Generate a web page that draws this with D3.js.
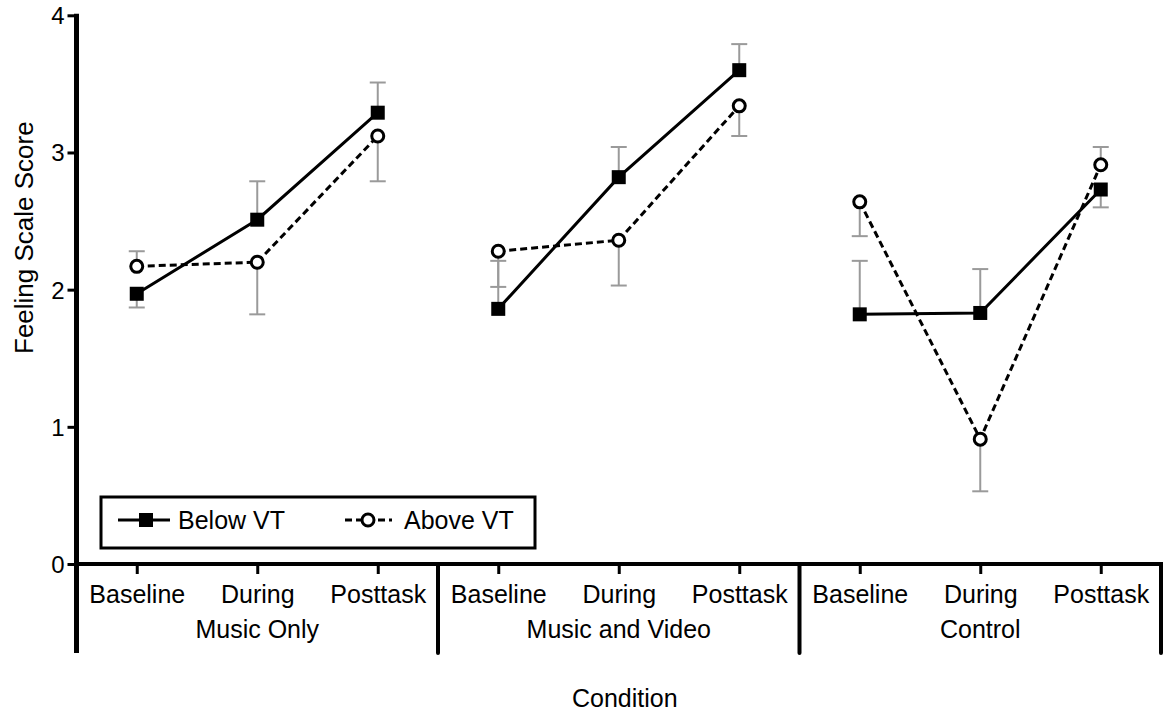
<!DOCTYPE html>
<html>
<head>
<meta charset="utf-8">
<script src="https://cdn.jsdelivr.net/npm/d3@7"></script>
<style>
    body { margin: 0; background: #ffffff; }
    text { font-family: Arial, "Liberation Sans", Helvetica, sans-serif; fill: #000; }
</style>
</head>
<body>
<div id="chart"></div>
<script>
// groups and phases along the x axis
var groups = ["Music Only", "Music and Video", "Control"];
var phases = ["Baseline", "During", "Posttask"];
var yTicks = [0, 1, 2, 3, 4];

// means, in group order then phase order
var belowMean = [1.97, 2.51, 3.29, 1.86, 2.82, 3.60, 1.82, 1.83, 2.73];
var aboveMean = [2.17, 2.20, 3.12, 2.28, 2.36, 3.34, 2.64, 0.91, 2.91];

// where each one-sided error bar ends
var belowErr = [1.87, 2.79, 3.51, 2.21, 3.04, 3.79, 2.21, 2.15, 2.60];
var aboveErr = [2.28, 1.82, 2.79, 2.02, 2.03, 3.12, 2.39, 0.53, 3.04];

var width = 1163, height = 720;
var plotLeft = 76.5, plotRight = 1161, plotTop = 15.3, plotBottom = 564, axisEnd = 653;

var svg = d3.select("#chart")
    .append("svg")
    .attr("width", width)
    .attr("height", height);

var groupScale = d3.scaleBand()
    .domain(groups)
    .range([plotLeft, plotRight])
    .padding(0);

var phaseScale = d3.scalePoint()
    .domain(phases)
    .range([0, groupScale.bandwidth()])
    .padding(0.5);

var y = d3.scaleLinear()
    .domain([0, 4])
    .range([plotBottom, plotTop]);

function rows(means, errs){
    var out = [];
    groups.forEach(function(g, gi){
        phases.forEach(function(p, pi){
            var i = gi * phases.length + pi;
            out.push({"group": g, "phase": p, "mean": means[i], "err": errs[i]});
        });
    });
    return out;
}

function xpos(d){ return groupScale(d.group) + phaseScale(d.phase); }

var below = rows(belowMean, belowErr);
var above = rows(aboveMean, aboveErr);

// y axis
var yAxis = svg.append("g")
    .attr("transform", "translate(" + plotLeft + ",0)")
    .call(d3.axisLeft(y).tickValues(yTicks).tickSize(9).tickPadding(3).tickFormat(d3.format("d")));

yAxis.select(".domain").remove();
yAxis.selectAll(".tick line").attr("stroke", "#000").attr("stroke-width", 3);
yAxis.selectAll(".tick text").style("font-size", "24px").attr("dy", "0.35em");

svg.append("line")
    .attr("x1", plotLeft).attr("x2", plotLeft)
    .attr("y1", plotTop - 1.5).attr("y2", axisEnd)
    .attr("stroke", "#000").attr("stroke-width", 5);

svg.append("text")
    .attr("transform", "translate(33," + ((plotTop + plotBottom) / 2 - 52) + ") rotate(-90)")
    .attr("text-anchor", "middle")
    .style("font-size", "26px")
    .text("Feeling Scale Score");

// x axis, phase ticks inside each group
svg.append("line")
    .attr("x1", plotLeft).attr("x2", width)
    .attr("y1", plotBottom).attr("y2", plotBottom)
    .attr("stroke", "#000").attr("stroke-width", 4);

groups.forEach(function(g){
    var gx = svg.append("g")
        .attr("transform", "translate(" + groupScale(g) + "," + plotBottom + ")")
        .call(d3.axisBottom(phaseScale).tickSize(10).tickPadding(6));

    gx.select(".domain").remove();
    gx.selectAll(".tick line").attr("stroke", "#000").attr("stroke-width", 3);
    gx.selectAll(".tick text").style("font-size", "25px").attr("dy", "0.9em");

    svg.append("text")
        .attr("x", groupScale(g) + groupScale.bandwidth() / 2)
        .attr("y", 638)
        .attr("text-anchor", "middle")
        .style("font-size", "25px")
        .text(g);

    svg.append("line")
        .attr("x1", groupScale(g) + groupScale.bandwidth())
        .attr("x2", groupScale(g) + groupScale.bandwidth())
        .attr("y1", plotBottom).attr("y2", axisEnd)
        .attr("stroke", "#000").attr("stroke-width", 4)
        .attr("stroke-linecap", "round");
});

svg.append("text")
    .attr("x", (plotLeft + plotRight) / 2 + 6)
    .attr("y", 707)
    .attr("text-anchor", "middle")
    .style("font-size", "25px")
    .text("Condition");

// error bars first so markers sit on top
function errorBars(data){
    var eb = svg.append("g").selectAll("g")
        .data(data).enter().append("g")
        .attr("stroke", "#9a9a9a")
        .attr("stroke-width", 2);

    eb.append("line")
        .attr("x1", xpos).attr("x2", xpos)
        .attr("y1", function(d){ return y(d.mean); })
        .attr("y2", function(d){ return y(d.err); });

    eb.append("line")
        .attr("x1", function(d){ return xpos(d) - 8; })
        .attr("x2", function(d){ return xpos(d) + 8; })
        .attr("y1", function(d){ return y(d.err); })
        .attr("y2", function(d){ return y(d.err); });
}

errorBars(below);
errorBars(above);

var line = d3.line()
    .x(xpos)
    .y(function(d){ return y(d.mean); });

groups.forEach(function(g){
    svg.append("path")
        .datum(below.filter(function(d){ return d.group === g; }))
        .attr("d", line)
        .attr("fill", "none")
        .attr("stroke", "#000")
        .attr("stroke-width", 3);

    svg.append("path")
        .datum(above.filter(function(d){ return d.group === g; }))
        .attr("d", line)
        .attr("fill", "none")
        .attr("stroke", "#000")
        .attr("stroke-width", 3)
        .attr("stroke-dasharray", "7,4");
});

svg.selectAll(".below")
    .data(below).enter().append("rect")
    .attr("class", "below")
    .attr("x", function(d){ return xpos(d) - 7; })
    .attr("y", function(d){ return y(d.mean) - 7; })
    .attr("width", 14).attr("height", 14)
    .attr("fill", "#000");

svg.selectAll(".above")
    .data(above).enter().append("circle")
    .attr("class", "above")
    .attr("cx", xpos)
    .attr("cy", function(d){ return y(d.mean); })
    .attr("r", 6)
    .attr("fill", "#fff")
    .attr("stroke", "#000")
    .attr("stroke-width", 3);

// legend
var legend = svg.append("g");

legend.append("rect")
    .attr("x", 101).attr("y", 497)
    .attr("width", 434).attr("height", 51)
    .attr("fill", "#fff")
    .attr("stroke", "#000")
    .attr("stroke-width", 3);

legend.append("line")
    .attr("x1", 118).attr("x2", 170).attr("y1", 520).attr("y2", 520)
    .attr("stroke", "#000").attr("stroke-width", 3);
legend.append("rect")
    .attr("x", 139).attr("y", 513).attr("width", 14).attr("height", 14)
    .attr("fill", "#000");
legend.append("text")
    .attr("x", 178).attr("y", 529)
    .style("font-size", "25px")
    .text("Below VT");

legend.append("line")
    .attr("x1", 345).attr("x2", 392).attr("y1", 520).attr("y2", 520)
    .attr("stroke", "#000").attr("stroke-width", 3)
    .attr("stroke-dasharray", "7,4");
legend.append("circle")
    .attr("cx", 368).attr("cy", 520).attr("r", 6)
    .attr("fill", "#fff").attr("stroke", "#000").attr("stroke-width", 3);
legend.append("text")
    .attr("x", 404).attr("y", 529)
    .style("font-size", "25px")
    .text("Above VT");
</script>
</body>
</html>
